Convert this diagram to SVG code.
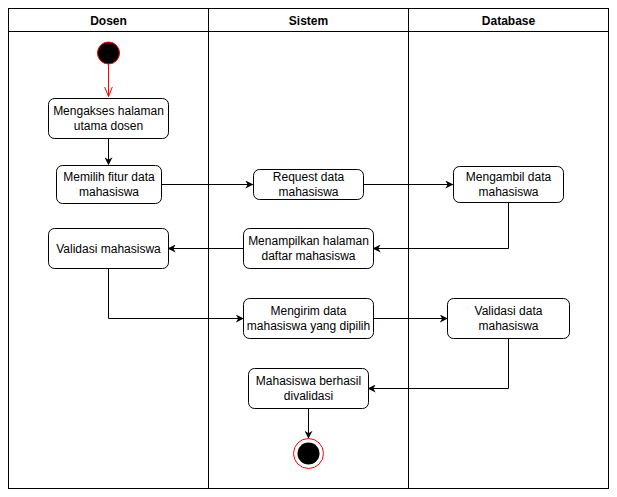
<svg xmlns="http://www.w3.org/2000/svg" width="617" height="497" viewBox="0 0 617 497">
  <style>
    .lane { fill: none; stroke: #000; stroke-width: 1; }
    .head { font-family: "Liberation Sans", Arial, sans-serif; font-size: 12px; font-weight: bold; text-anchor: middle; fill: #000; }
    .act rect { fill: #fff; stroke: #000; stroke-width: 1; }
    .act text { font-family: "Liberation Sans", Arial, sans-serif; font-size: 12px; text-anchor: middle; fill: #000; }
    .flow { fill: none; stroke: #000; stroke-width: 1; }
  </style>
  <defs>
    <marker id="arrow" viewBox="0 0 10 10" refX="9" refY="5" markerWidth="8" markerHeight="8" markerUnits="userSpaceOnUse" orient="auto">
      <path d="M0,0 L10,5 L0,10 L3,5 Z" fill="#000"/>
    </marker>
    <marker id="openRed" viewBox="0 0 10 10" refX="10" refY="5" markerWidth="10" markerHeight="10" markerUnits="userSpaceOnUse" orient="auto">
      <path d="M0,1 L10,5 L0,9" fill="none" stroke="#ff0000" stroke-width="1"/>
    </marker>
  </defs>

  <rect width="617" height="497" fill="#fff"/>

  <!-- swimlanes -->
  <g id="lanes">
    <rect class="lane" x="8.5" y="8.5" width="600" height="480"/>
    <line class="lane" x1="8.5" y1="31.5" x2="608.5" y2="31.5"/>
    <line class="lane" x1="208.5" y1="8.5" x2="208.5" y2="488.5"/>
    <line class="lane" x1="408.5" y1="8.5" x2="408.5" y2="488.5"/>
    <text class="head" x="108.5" y="24.5">Dosen</text>
    <text class="head" x="308.5" y="24.5">Sistem</text>
    <text class="head" x="508.5" y="24.5">Database</text>
  </g>

  <!-- connectors -->
  <g id="connectors">
    <line x1="108.5" y1="64" x2="108.5" y2="96.5" stroke="#ff0000" stroke-width="1" marker-end="url(#openRed)"/>
    <line class="flow" x1="108.5" y1="138" x2="108.5" y2="164.5" marker-end="url(#arrow)"/>
    <line class="flow" x1="161" y1="184.5" x2="252.5" y2="184.5" marker-end="url(#arrow)"/>
    <line class="flow" x1="363" y1="184.5" x2="452.5" y2="184.5" marker-end="url(#arrow)"/>
    <polyline class="flow" points="508.5,203 508.5,248.5 373.5,248.5" marker-end="url(#arrow)"/>
    <line class="flow" x1="243" y1="248.5" x2="168.5" y2="248.5" marker-end="url(#arrow)"/>
    <polyline class="flow" points="108.5,268 108.5,318.5 243,318.5" marker-end="url(#arrow)"/>
    <line class="flow" x1="373" y1="318.5" x2="447" y2="318.5" marker-end="url(#arrow)"/>
    <polyline class="flow" points="508.5,338 508.5,388.5 368.5,388.5" marker-end="url(#arrow)"/>
    <line class="flow" x1="308.5" y1="408" x2="308.5" y2="438" marker-end="url(#arrow)"/>
  </g>

  <!-- start -->
  <g id="start">
    <circle cx="108.5" cy="53" r="11" fill="#000" stroke="#ff0000" stroke-width="1"/>
  </g>

  <g id="mengakses" class="act">
    <rect x="48.5" y="98.5" width="120" height="40" rx="6"/>
    <text x="108.5" y="115">Mengakses halaman</text>
    <text x="108.5" y="130">utama dosen</text>
  </g>

  <g id="memilih" class="act">
    <rect x="56.5" y="165.5" width="105" height="38" rx="6"/>
    <text x="109" y="181">Memilih fitur data</text>
    <text x="109" y="196">mahasiswa</text>
  </g>

  <g id="request" class="act">
    <rect x="253.5" y="169.5" width="110" height="30" rx="6"/>
    <text x="308.5" y="181">Request data</text>
    <text x="308.5" y="196">mahasiswa</text>
  </g>

  <g id="mengambil" class="act">
    <rect x="453.5" y="166.5" width="110" height="36" rx="6"/>
    <text x="508.5" y="181">Mengambil data</text>
    <text x="508.5" y="196">mahasiswa</text>
  </g>

  <g id="menampilkan" class="act">
    <rect x="243.5" y="228.5" width="130" height="40" rx="6"/>
    <text x="308.5" y="245">Menampilkan halaman</text>
    <text x="308.5" y="260">daftar mahasiswa</text>
  </g>

  <g id="validasi-mahasiswa" class="act">
    <rect x="48.5" y="228.5" width="120" height="40" rx="6"/>
    <text x="108.5" y="252.5">Validasi mahasiswa</text>
  </g>

  <g id="mengirim" class="act">
    <rect x="243.5" y="298.5" width="130" height="40" rx="6"/>
    <text x="308.5" y="315">Mengirim data</text>
    <text x="308.5" y="330">mahasiswa yang dipilih</text>
  </g>

  <g id="validasi-data" class="act">
    <rect x="447.5" y="298.5" width="122" height="40" rx="6"/>
    <text x="508.5" y="315">Validasi data</text>
    <text x="508.5" y="330">mahasiswa</text>
  </g>

  <g id="berhasil" class="act">
    <rect x="248.5" y="368.5" width="120" height="40" rx="6"/>
    <text x="308.5" y="385">Mahasiswa berhasil</text>
    <text x="308.5" y="400">divalidasi</text>
  </g>

  <!-- end -->
  <g id="end">
    <circle cx="308.5" cy="453.5" r="15" fill="#fff" stroke="#ff0000" stroke-width="1"/>
    <circle cx="308.5" cy="453.5" r="11" fill="#000"/>
  </g>
</svg>
